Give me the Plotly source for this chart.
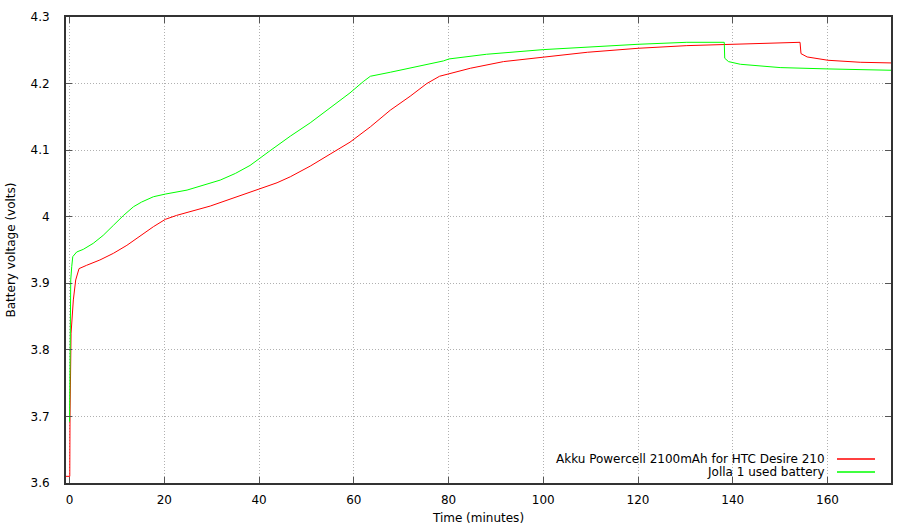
import plotly.graph_objects as go

# ---- data ----
red_t = [-0.75, 0.05, 0.1, 0.32, 0.8, 1.3, 2.0, 2.6, 3.6, 6.4, 9.25, 12.1, 14.9, 17.7, 20.2,
         22.6, 29.7, 36.7, 40.0, 43.8, 46.6, 50.8, 55.0, 59.2, 63.5, 67.7, 71.9,
         75.4, 78.1, 80.1, 84.6, 91.6, 100, 109.3, 120, 130.3, 140, 154.2, 154.4, 155.7,
         160.1, 166.9, 173.4]
red_v = [3.61, 3.61, 3.70, 3.825, 3.875, 3.905, 3.922, 3.924, 3.927, 3.935, 3.945, 3.957,
         3.971, 3.985, 3.996, 4.002, 4.016, 4.033, 4.042, 4.051, 4.060, 4.076, 4.094,
         4.112, 4.135, 4.160, 4.181, 4.200, 4.211, 4.215, 4.223, 4.233, 4.240, 4.247,
         4.253, 4.257, 4.259, 4.262, 4.245, 4.240, 4.235, 4.232, 4.231]

green_t = [0.0, 0.12, 0.25, 0.46, 0.68, 1.5, 2.9, 5.0, 7.1, 9.25, 11.4, 13.5, 15.2, 17.7,
           20.2, 24.8, 28.3, 31.8, 35.0, 38.1, 42.3, 46.6, 50.8, 55.0, 59.2, 62.0, 63.5, 67.7,
           73.3, 78.9, 80.1, 88, 100, 109.3, 120, 130.3, 138.2, 138.3, 139.1, 141.6, 150,
           160.1, 173.4]
green_v = [3.692, 3.875, 3.905, 3.925, 3.940, 3.947, 3.951, 3.960, 3.972, 3.987, 4.002,
           4.015, 4.022, 4.030, 4.034, 4.040, 4.047, 4.055, 4.065, 4.077, 4.099, 4.121, 4.141,
           4.163, 4.186, 4.203, 4.211, 4.217, 4.225, 4.234, 4.237, 4.244, 4.251, 4.255,
           4.259, 4.262, 4.262, 4.238, 4.233, 4.229, 4.224, 4.222, 4.220]

series_names = ["Akku Powercell 2100mAh for HTC Desire 210", "Jolla 1 used battery"]
series_colors = ["#ff0000", "#00ff00"]

x_ticks = [0, 20, 40, 60, 80, 100, 120, 140, 160]
y_ticks = [3.6, 3.7, 3.8, 3.9, 4.0, 4.1, 4.2, 4.3]
y_tick_labels = ["3.6", "3.7", "3.8", "3.9", "4", "4.1", "4.2", "4.3"]

x_title = "Time (minutes)"
y_title = "Battery voltage (volts)"

FONT = "DejaVu Sans"

fig = go.Figure()
for t, v, name, col in [(red_t, red_v, series_names[0], series_colors[0]),
                        (green_t, green_v, series_names[1], series_colors[1])]:
    fig.add_trace(go.Scatter(x=t, y=v, mode="lines", name=name,
                             line=dict(color=col, width=1), showlegend=False,
                             hoverinfo="skip"))

axis_common = dict(
    showline=True, linecolor="#333333", linewidth=2, mirror="ticks",
    ticks="inside", ticklen=6, tickwidth=1, tickcolor="#555555",
    showgrid=True, gridcolor="#b0b0b0", gridwidth=1, griddash="1px,2px",
    zeroline=False, tickfont=dict(family=FONT, size=12, color="black"),
)

fig.update_xaxes(range=[-0.75, 173.4], tickvals=x_ticks, ticklabelstandoff=5,
                 title=dict(text=x_title, font=dict(family=FONT, size=12, color="black"),
                            standoff=8),
                 automargin=False, **axis_common)
fig.update_yaxes(range=[3.6, 4.3], tickvals=y_ticks, ticktext=y_tick_labels,
                 ticklabelstandoff=12,
                 title=dict(text=y_title, font=dict(family=FONT, size=12, color="black"),
                            standoff=12),
                 automargin=False, **axis_common)

# legend drawn gnuplot-style (text right-aligned, sample to the right)
leg_y = [0.0515, 0.0236]
for name, col, yy in zip(series_names, series_colors, leg_y):
    fig.add_annotation(xref="paper", yref="paper", x=0.922, y=yy, text=name,
                       showarrow=False, xanchor="right", yanchor="middle",
                       font=dict(family=FONT, size=12, color="black"))
    fig.add_shape(type="line", xref="paper", yref="paper", x0=0.9345, x1=0.9806,
                  y0=yy, y1=yy, line=dict(color=col, width=1.5))

fig.update_layout(
    width=915, height=525,
    margin=dict(l=66, r=24, t=17, b=42),
    paper_bgcolor="white", plot_bgcolor="white",
    font=dict(family=FONT, size=12, color="black"),
)

fig.write_html("out.html", config={"displayModeBar": False},
               post_script="document.body.style.margin='0';document.body.style.overflow='hidden';")
